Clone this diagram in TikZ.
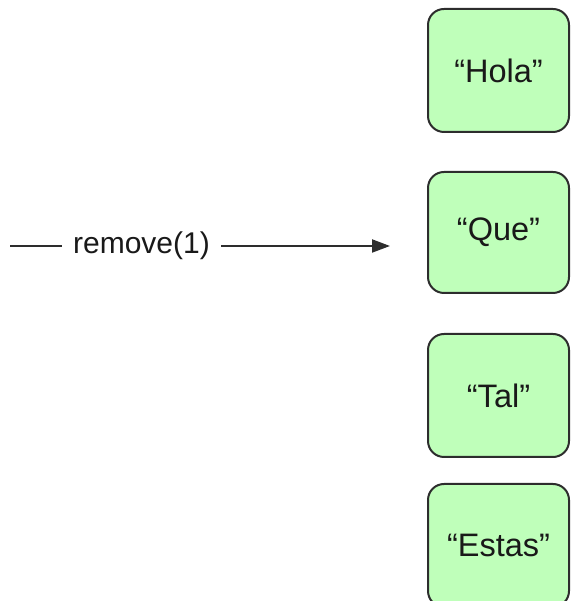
\documentclass[tikz,border=0pt]{standalone}
\usepackage{fontspec}
\setmainfont{Liberation Sans}
\usetikzlibrary{arrows.meta}
\definecolor{boxfill}{RGB}{191,255,186}
\definecolor{boxline}{RGB}{45,45,45}
\definecolor{txt}{RGB}{25,25,25}
\tikzset{
  word/.style={draw=boxline, line width=2pt, fill=boxfill, rounded corners=16pt,
    minimum width=141pt, minimum height=123pt, inner sep=0pt,
    font=\fontsize{32.5}{38}\selectfont, text=txt},
  call/.style={line width=2pt, draw=boxline, -{Triangle[length=18pt,width=13pt]}},
  calllabel/.style={fill=white, inner xsep=11pt, inner ysep=2pt,
    font=\fontsize{30}{36}\selectfont, text=txt}
}
\begin{document}
\begin{tikzpicture}[x=1pt,y=1pt]
\useasboundingbox (0,0) rectangle (570,601);
\clip (0,0) rectangle (570,601);
\node[word] (hola) at (498.5,530.5) {“Hola”};
\node[word, minimum height=121pt] (que) at (498.5,368.5) {“Que”};
\node[word] (tal) at (498.5,205.5) {“Tal”};
\node[word] (estas) at (498.5,55.5) {“Estas”};
\coordinate (start) at (10,355);
\coordinate (tip) at (390,355);
\draw[call] (start) -- node[calllabel, pos=0.346] (lbl) {remove(1)} (tip);
\end{tikzpicture}
\end{document}
